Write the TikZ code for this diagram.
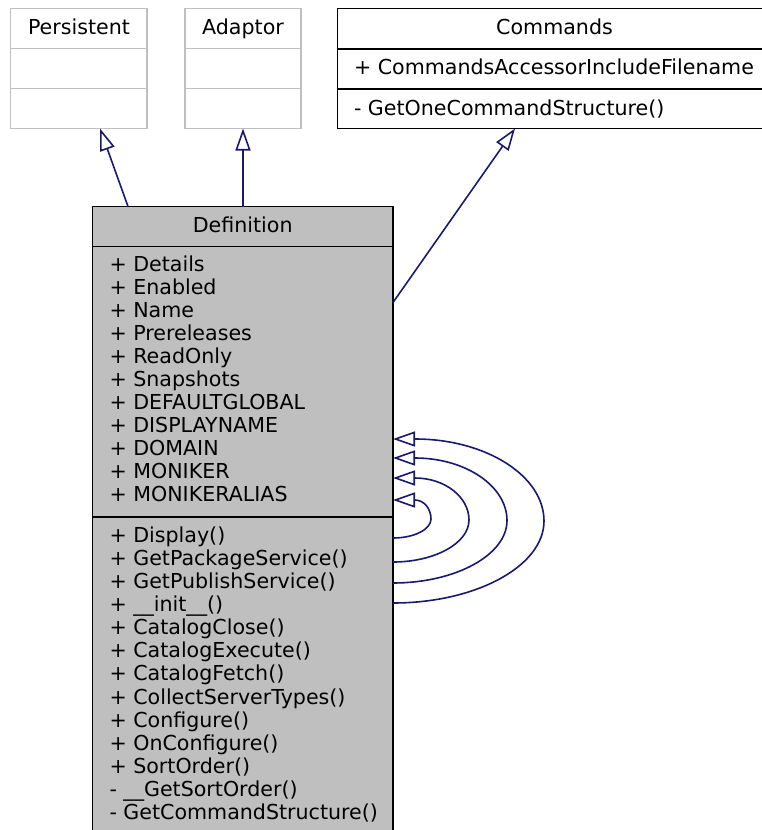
\documentclass[tikz,border=0pt]{standalone}
\usepackage{fontspec}
\setmainfont{DejaVu Sans}
\usetikzlibrary{arrows.meta,calc}
\definecolor{edgeblue}{HTML}{191970}
\definecolor{boxgrey}{HTML}{BFBFBF}
\begin{document}
\begin{tikzpicture}[x=1pt,y=-1pt,
  every node/.style={inner sep=0pt,outer sep=0pt},
  greybox/.style={draw=boxgrey,line width=1.7pt,fill=white,anchor=north west},
  blackbox/.style={draw=black,line width=1.7pt,fill=white,anchor=north west},
  defbox/.style={draw=black,line width=1.7pt,fill=boxgrey,anchor=north west},
  txt/.style={font=\fontsize{20.6}{23}\selectfont,anchor=base west},
  ttl/.style={font=\fontsize{20.6}{23}\selectfont,anchor=base},
  inherit/.style={draw=edgeblue,line width=1.6pt,-{Triangle[open,length=22pt,width=15pt,fill=white]}}
]
\useasboundingbox (0,0) rectangle (761,830);
\fill[white] (0,0) rectangle (761,830);

% Persistent
\node[greybox,minimum width=136.5pt,minimum height=120pt] (persistent) at (10.5,8.5) {};
\draw[boxgrey,line width=1.7pt] ($(persistent.north west)+(0,40)$) -- ($(persistent.north east)+(0,40)$);
\draw[boxgrey,line width=1.7pt] ($(persistent.north west)+(0,80)$) -- ($(persistent.north east)+(0,80)$);
\node[ttl] (persistentT) at (79,34) {Persistent};

% Adaptor
\node[greybox,minimum width=116pt,minimum height=120pt] (adaptor) at (185,8.5) {};
\draw[boxgrey,line width=1.7pt] ($(adaptor.north west)+(0,40)$) -- ($(adaptor.north east)+(0,40)$);
\draw[boxgrey,line width=1.7pt] ($(adaptor.north west)+(0,80)$) -- ($(adaptor.north east)+(0,80)$);
\node[ttl] (adaptorT) at (243,34) {Adaptor};

% Commands
\node[blackbox,minimum width=426pt,minimum height=120pt] (commands) at (337.5,8.5) {};
\draw[line width=1.7pt] ($(commands.north west)+(0,40.5)$) -- ($(commands.north east)+(0,40.5)$);
\draw[line width=1.7pt] ($(commands.north west)+(0,80.5)$) -- ($(commands.north east)+(0,80.5)$);
\node[ttl] (commandsT) at (554.5,34) {Commands};
\node[txt] (commandsA) at (354,74.5) {+ CommandsAccessorIncludeFilename};
\node[txt] (commandsM) at (354,115.5) {- GetOneCommandStructure()};

% Definition
\node[defbox,minimum width=300.5pt,minimum height=630pt] (def) at (92.5,206.5) {};
\draw[line width=1.7pt] ($(def.north west)+(0,40)$) -- ($(def.north east)+(0,40)$);
\draw[line width=1.7pt] ($(def.north west)+(0,310.5)$) -- ($(def.north east)+(0,310.5)$);
\node[ttl] (defT) at (242.7,232) {Definition};
\foreach \t [count=\i from 0] in {+ Details,+ Enabled,+ Name,+ Prereleases,+ ReadOnly,+ Snapshots,+ DEFAULTGLOBAL,+ DISPLAYNAME,+ DOMAIN,+ MONIKER,+ MONIKERALIAS}
  \node[txt] (defA\i) at (109.5,271+23*\i) {\t};
\foreach \t [count=\i from 0] in {+ Display(),+ GetPackageService(),+ GetPublishService(),+ \_\_init\_\_(),+ CatalogClose(),+ CatalogExecute(),+ CatalogFetch(),+ CollectServerTypes(),+ Configure(),+ OnConfigure(),+ SortOrder(),- \_\_GetSortOrder(),- GetCommandStructure()}
  \node[txt] (defM\i) at (109.5,542.5+23.08*\i) {\t};

% Inheritance edges
\draw[inherit] ($(def.north west)+(35.5,0)$) -- ($(persistent.south west)+(89.5,0)$);
\draw[inherit] (def.north -| adaptor.south) -- (adaptor.south);
\draw[inherit] ($(def.north east)+(0,96)$) -- ($(commands.south west)+(177.5,0)$);

% Self loops
\draw[inherit] (def.north east |- 0,538) .. controls (413.9,538) and (431,529.5) .. (431,519)
  .. controls (431,508.5) and (423.8,500) .. (415,500) -- (def.north east |- 0,500);
\draw[inherit] (def.north east |- 0,562) .. controls (434.8,562) and (469,543.1) .. (469,520)
  .. controls (469,496.9) and (444.7,478) .. (415,478) -- (def.north east |- 0,478);
\draw[inherit] (def.north east |- 0,583) .. controls (455.7,583) and (507,554.9) .. (507,520.5)
  .. controls (507,486.1) and (465.6,458) .. (415,458) -- (def.north east |- 0,458);
\draw[inherit] (def.north east |- 0,603) .. controls (476.1,603) and (544,566.1) .. (544,521)
  .. controls (544,475.9) and (486,439) .. (415,439) -- (def.north east |- 0,439);
\end{tikzpicture}
\end{document}
